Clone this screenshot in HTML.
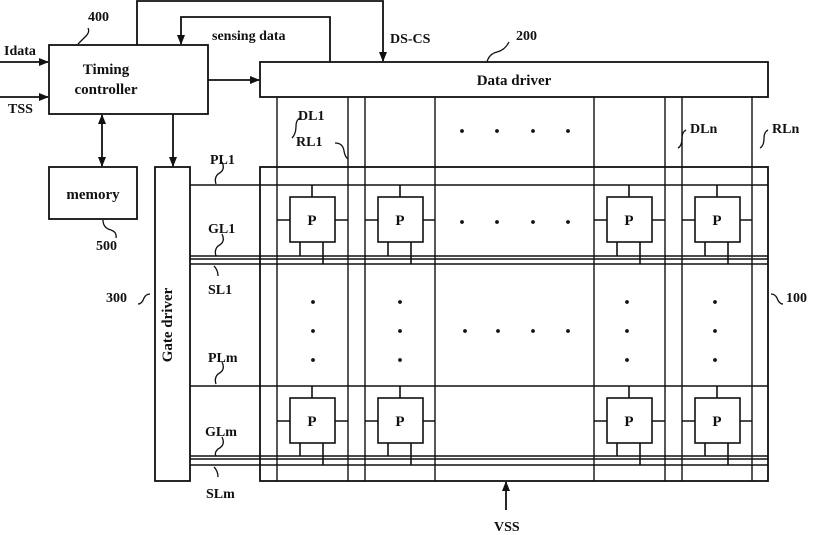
<!DOCTYPE html>
<html><head><meta charset="utf-8"><style>body{margin:0;background:#fff}svg{display:block}text{font-family:"Liberation Serif",serif;font-weight:bold;fill:#111}</style></head><body>
<svg width="814" height="535" viewBox="0 0 814 535" xmlns="http://www.w3.org/2000/svg">
<defs><marker id="a" markerWidth="10" markerHeight="10" refX="9" refY="5" orient="auto-start-reverse" markerUnits="userSpaceOnUse"><path d="M0,1 L10,5 L0,9 z" fill="#111"/></marker></defs>
<g stroke="#111" stroke-width="1.8" fill="none">
<rect x="49" y="45" width="159" height="69"/>
<rect x="49" y="167" width="88" height="52"/>
<rect x="155" y="167" width="35" height="314"/>
<rect x="260" y="62" width="508" height="35"/>
<rect x="260" y="167" width="508" height="314"/>
<line x1="0" y1="62" x2="48" y2="62" marker-end="url(#a)"/>
<line x1="0" y1="97" x2="48" y2="97" marker-end="url(#a)"/>
<polyline points="137,45 137,1 383,1 383,61" marker-end="url(#a)"/>
<polyline points="330,62 330,17 181,17 181,44" marker-end="url(#a)"/>
<line x1="208" y1="80" x2="259" y2="80" marker-end="url(#a)"/>
<line x1="173" y1="114" x2="173" y2="166" marker-end="url(#a)"/>
<line x1="102" y1="115" x2="102" y2="166" marker-start="url(#a)" marker-end="url(#a)"/>
<line x1="506" y1="510" x2="506" y2="482" marker-end="url(#a)"/>
<g stroke-width="1.4">
<line x1="277" y1="97" x2="277" y2="481"/><line x1="348" y1="97" x2="348" y2="481"/>
<line x1="365" y1="97" x2="365" y2="481"/><line x1="435" y1="97" x2="435" y2="481"/>
<line x1="594" y1="97" x2="594" y2="481"/><line x1="665" y1="97" x2="665" y2="481"/>
<line x1="682" y1="97" x2="682" y2="481"/><line x1="752" y1="97" x2="752" y2="481"/>
<line x1="190" y1="185" x2="768" y2="185"/><line x1="190" y1="256" x2="768" y2="256"/><line x1="190" y1="259" x2="768" y2="259"/><line x1="190" y1="264" x2="768" y2="264"/>
<line x1="190" y1="386" x2="768" y2="386"/><line x1="190" y1="456" x2="768" y2="456"/><line x1="190" y1="459" x2="768" y2="459"/><line x1="190" y1="465" x2="768" y2="465"/>
</g>
<path d="M78,44 q4,-4 8,-8 q4,-4 2,-8 M103,220 q0,8 8,10 q6,2 5,8 M300,118 q-4,2 -4,8 q0,8 -4,12 M335,143 q8,0 9,8 q1,6 4,8 M686,130 q-4,2 -4,8 q0,8 -4,10 M768,130 q-4,2 -4,8 q0,8 -4,10 M222,162 q4,8 -4,12 q-4,4 -2,10 M222,234 q4,8 -4,12 q-4,4 -2,10 M214,266 q4,4 4,10 M222,362 q4,8 -4,12 q-4,4 -2,10 M222,437 q4,8 -4,12 q-4,4 -2,7 M214,467 q4,4 4,10 M150,294 q-4,0 -6,4 q-2,6 -6,6 M771,294 q4,0 6,4 q2,6 6,6 M509,42 q-4,8 -12,10 q-8,2 -10,10" stroke-width="1.3"/>
</g>
<text x="106" y="74" font-size="15" text-anchor="middle">Timing</text>
<text x="106" y="94" font-size="15" text-anchor="middle">controller</text>
<text x="93" y="199" font-size="15" text-anchor="middle">memory</text>
<text x="514" y="85" font-size="15" text-anchor="middle">Data driver</text>
<text x="172" y="325" font-size="15" text-anchor="middle" transform="rotate(-90 172 325)">Gate driver</text>
<g font-size="14">
<text x="4" y="55">Idata</text><text x="8" y="113">TSS</text>
<text x="88" y="21">400</text><text x="96" y="250">500</text><text x="516" y="40">200</text>
<text x="212" y="40">sensing data</text><text x="390" y="43">DS-CS</text>
<text x="298" y="120">DL1</text><text x="296" y="146">RL1</text><text x="690" y="133">DLn</text><text x="772" y="133">RLn</text>
<text x="210" y="164">PL1</text><text x="208" y="233">GL1</text><text x="208" y="294">SL1</text>
<text x="208" y="362">PLm</text><text x="205" y="436">GLm</text><text x="206" y="498">SLm</text>
<text x="106" y="302">300</text><text x="786" y="302">100</text><text x="494" y="531">VSS</text>
</g>
<g stroke="#111" stroke-width="1.6" fill="#fff">
<g><rect x="290" y="197" width="45" height="45"/><path d="M312,185V197M277,220H290M335,220H348M300,242V256M323,242V264" fill="none"/></g>
<g><rect x="378" y="197" width="45" height="45"/><path d="M400,185V197M365,220H378M423,220H435M388,242V256M411,242V264" fill="none"/></g>
<g><rect x="607" y="197" width="45" height="45"/><path d="M629,185V197M594,220H607M652,220H665M617,242V256M640,242V264" fill="none"/></g>
<g><rect x="695" y="197" width="45" height="45"/><path d="M717,185V197M682,220H695M740,220H752M705,242V256M728,242V264" fill="none"/></g>
<g><rect x="290" y="398" width="45" height="45"/><path d="M312,386V398M277,421H290M335,421H348M300,443V456M323,443V465" fill="none"/></g>
<g><rect x="378" y="398" width="45" height="45"/><path d="M400,386V398M365,421H378M423,421H435M388,443V456M411,443V465" fill="none"/></g>
<g><rect x="607" y="398" width="45" height="45"/><path d="M629,386V398M594,421H607M652,421H665M617,443V456M640,443V465" fill="none"/></g>
<g><rect x="695" y="398" width="45" height="45"/><path d="M717,386V398M682,421H695M740,421H752M705,443V456M728,443V465" fill="none"/></g>
</g>
<g font-size="15" text-anchor="middle">
<text x="312" y="225">P</text><text x="400" y="225">P</text><text x="629" y="225">P</text><text x="717" y="225">P</text>
<text x="312" y="426">P</text><text x="400" y="426">P</text><text x="629" y="426">P</text><text x="717" y="426">P</text>
</g>
<g fill="#111">
<circle cx="462" cy="131" r="1.9"/><circle cx="497" cy="131" r="1.9"/><circle cx="533" cy="131" r="1.9"/><circle cx="568" cy="131" r="1.9"/>
<circle cx="462" cy="222" r="1.9"/><circle cx="497" cy="222" r="1.9"/><circle cx="533" cy="222" r="1.9"/><circle cx="568" cy="222" r="1.9"/>
<circle cx="465" cy="331" r="1.9"/><circle cx="498" cy="331" r="1.9"/><circle cx="533" cy="331" r="1.9"/><circle cx="568" cy="331" r="1.9"/>
<circle cx="313" cy="302" r="1.9"/><circle cx="313" cy="331" r="1.9"/><circle cx="313" cy="360" r="1.9"/>
<circle cx="400" cy="302" r="1.9"/><circle cx="400" cy="331" r="1.9"/><circle cx="400" cy="360" r="1.9"/>
<circle cx="627" cy="302" r="1.9"/><circle cx="627" cy="331" r="1.9"/><circle cx="627" cy="360" r="1.9"/>
<circle cx="715" cy="302" r="1.9"/><circle cx="715" cy="331" r="1.9"/><circle cx="715" cy="360" r="1.9"/>
</g>
</svg>
</body></html>
